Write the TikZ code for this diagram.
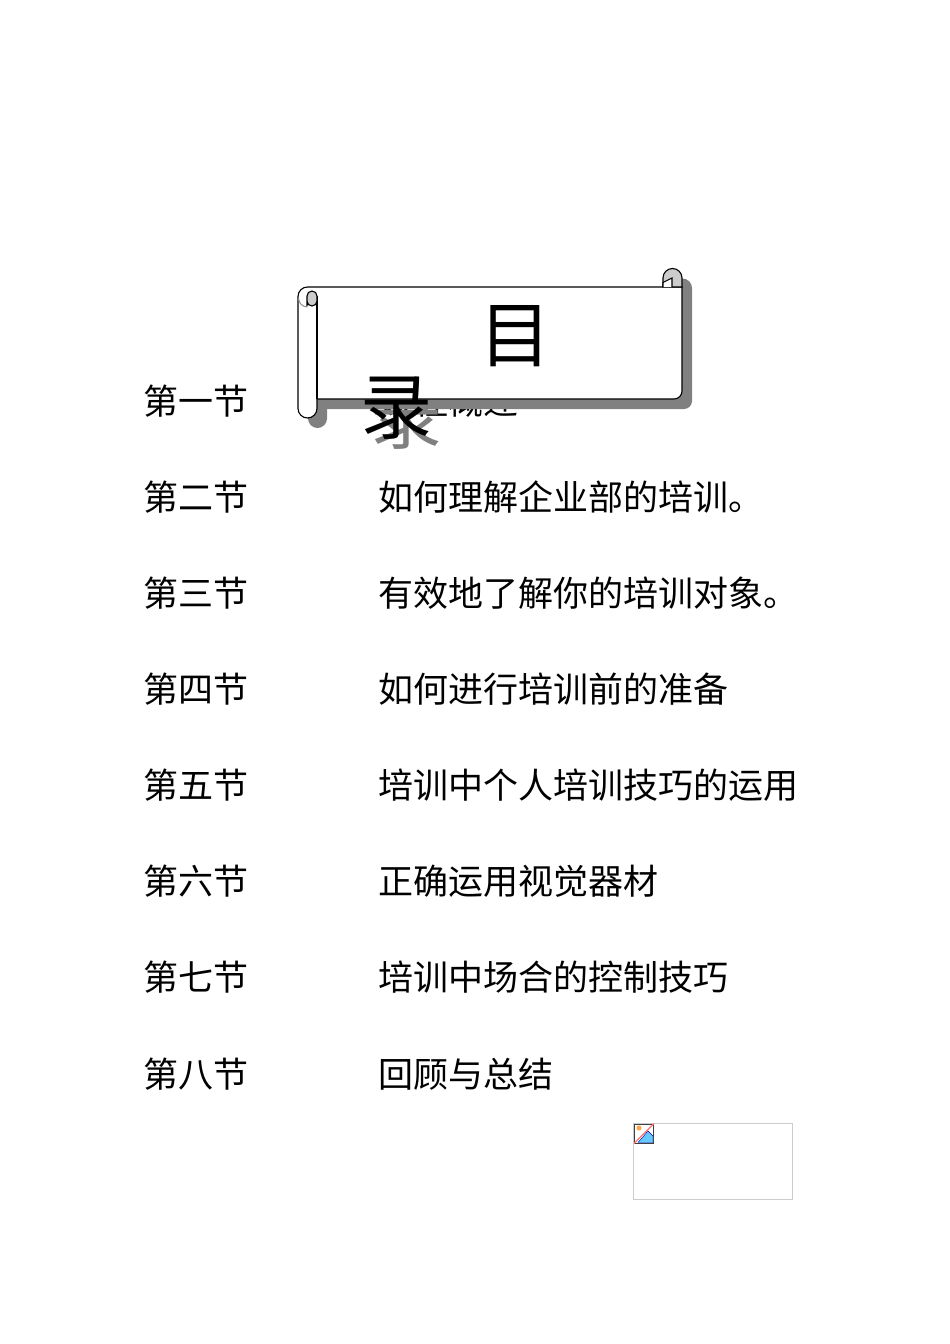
\documentclass[tikz,border=0pt]{standalone}
\usepackage{fontspec}
\setmainfont{Noto Sans CJK SC}
\usetikzlibrary{positioning}

\begin{document}
\begin{tikzpicture}[x=1pt, y=-1pt,
    % --- Styles ---
    rowText/.style={
      anchor=west,
      inner sep=0pt,
      font=\fontsize{35}{35}\selectfont
    },
    titleText/.style={
      inner sep=0pt,
      font=\fontsize{72}{72}\selectfont
    },
    scrollShadow/.style={
      fill=black!50,
      draw=none
    },
    scrollLine/.style={
      draw=black,
      line width=1.1pt
    },
    curlFill/.style={
      fill=black!20,
      draw=black,
      line width=1.1pt
    }
]
\useasboundingbox (0,0) rectangle (950,1344);

%=====================
% Rows: section, then its topic
%=====================
\node[rowText] (secA) at (143,401.5) {第一节};
\node[rowText] (topA) at (378,401.5) {课程概述};
\node[rowText] (secB) at (143,497.5) {第二节};
\node[rowText] (topB) at (378,497.5) {如何理解企业部的培训。};
\node[rowText] (secC) at (143,593.5) {第三节};
\node[rowText] (topC) at (378,593.5) {有效地了解你的培训对象。};
\node[rowText] (secD) at (143,689.5) {第四节};
\node[rowText] (topD) at (378,689.5) {如何进行培训前的准备};
\node[rowText] (secE) at (143,785.5) {第五节};
\node[rowText] (topE) at (378,785.5) {培训中个人培训技巧的运用};
\node[rowText] (secF) at (143,881.5) {第六节};
\node[rowText] (topF) at (378,881.5) {正确运用视觉器材};
\node[rowText] (secG) at (143,977.5) {第七节};
\node[rowText] (topG) at (378,977.5) {培训中场合的控制技巧};
\node[rowText] (secH) at (143,1074.5) {第八节};
\node[rowText] (topH) at (378,1074.5) {回顾与总结};

%=====================
% Scroll shadow
%=====================
\path[scrollShadow] (317,297) -- (673,297) -- (673,288) arc[start angle=180, end angle=360, radius=9.5]
  -- (692,401) arc[start angle=0, end angle=90, radius=8] -- (327,409)
  -- (327,418.5) arc[start angle=0, end angle=180, radius=9.5] -- (308,307) -- cycle;
\node[titleText, text=black!50] (titleShadow) at (406.5,418) {录};

%=====================
% Scroll body
%=====================
\path[scrollLine, fill=white] (307.5,287) -- (682,287) -- (682,391)
  arc[start angle=0, end angle=90, radius=8] -- (317,399)
  -- (317,408.5) arc[start angle=0, end angle=180, radius=9.5] -- (298,296.5)
  arc[start angle=180, end angle=270, radius=9.5] -- cycle;
\draw[scrollLine] (317,296) -- (317,399);

% left curl
\path[curlFill] (307,306) -- (307,296) arc[start angle=180, end angle=360, radius=5]
  -- (317,301) arc[start angle=0, end angle=180, radius=5];
\draw[black!45, line width=1pt] (298.5,298) arc[start angle=180, end angle=90, radius=9];

% right curl
\path[curlFill] (663,287) -- (663,278) arc[start angle=180, end angle=360, radius=9.5] -- (682,287) -- cycle;
\path[scrollLine, fill=white] (663,287) -- (663,282.5) -- (672,278) -- (672,287);

%=====================
% Title
%=====================
\node[titleText] (titleA) at (515,336) {目};
\node[titleText] (titleB) at (396.5,408) {录};

%=====================
% Missing picture frame
%=====================
\node[draw=black!20, line width=1pt, minimum width=159pt, minimum height=76pt,
  inner sep=0pt] (picFrame) at (713,1161) {};
\node[draw=black!75, fill=white, line width=1pt, minimum size=19pt, inner sep=0pt,
  anchor=north west] (picIcon) at (634,1123.5) {};
\fill[blue!35!cyan!60!white, draw=blue!60!black, line width=0.4pt]
  (638,1142.5) -- (648,1131) -- (653,1136) -- (653,1142.5) -- cycle;
\fill[orange!70] (639,1128) circle (2.5);
\draw[red!55!white, line width=1.2pt] (picIcon.south west) -- (picIcon.north east);

\end{tikzpicture}
\end{document}
